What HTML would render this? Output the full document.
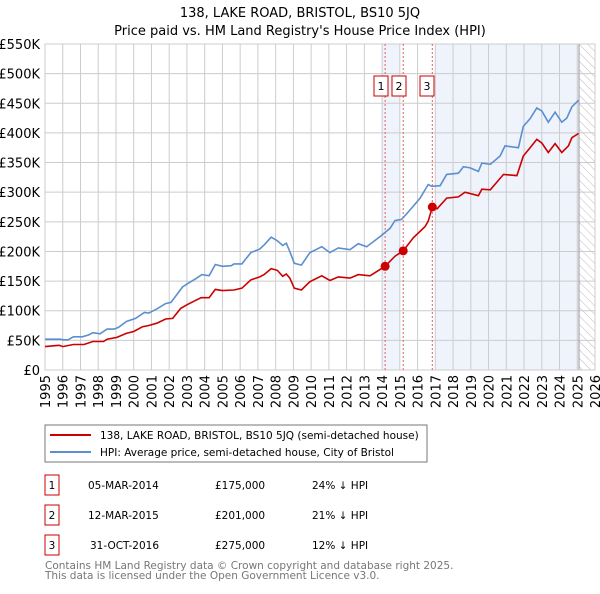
<!DOCTYPE html>
<html><head><meta charset="utf-8"><style>
body{margin:0;background:#fff;font-family:"DejaVu Sans","Liberation Sans",sans-serif;}
svg text{font-family:"DejaVu Sans","Liberation Sans",sans-serif;}
</style></head><body>
<svg id="c" width="600" height="590" xmlns="http://www.w3.org/2000/svg">
<defs><pattern id="hatch" width="6" height="6" patternUnits="userSpaceOnUse" patternTransform="rotate(-45)"><line x1="0" y1="0" x2="0" y2="6" stroke="#bbb" stroke-width="1"/></pattern></defs>
<text x="300" y="17" text-anchor="middle" font-size="13">138, LAKE ROAD, BRISTOL, BS10 5JQ</text>
<text x="300" y="35" text-anchor="middle" font-size="13">Price paid vs. HM Land Registry's House Price Index (HPI)</text>
<g id="plot"></g>
<rect x="45" y="425" width="382" height="37" fill="#fff" stroke="#777"/>
<line x1="50" y1="435" x2="91" y2="435" stroke="#cc0000" stroke-width="2"/>
<text x="100" y="439" font-size="10.5">138, LAKE ROAD, BRISTOL, BS10 5JQ (semi-detached house)</text>
<line x1="50" y1="452" x2="91" y2="452" stroke="#5b8fd0" stroke-width="2"/>
<text x="100" y="456" font-size="10.5">HPI: Average price, semi-detached house, City of Bristol</text>
<g id="table"></g>
<text x="45" y="569" font-size="10.5" fill="#777">Contains HM Land Registry data © Crown copyright and database right 2025.</text>
<text x="45" y="579" font-size="10.5" fill="#777">This data is licensed under the Open Government Licence v3.0.</text>
</svg>
<script>
const yTicks=[0,50,100,150,200,250,300,350,400,450,500,550];
const yLabels=["£0","£50K","£100K","£150K","£200K","£250K","£300K","£350K","£400K","£450K","£500K","£550K"];
const xYears=[1995,1996,1997,1998,1999,2000,2001,2002,2003,2004,2005,2006,2007,2008,2009,2010,2011,2012,2013,2014,2015,2016,2017,2018,2019,2020,2021,2022,2023,2024,2025,2026];
const hpiT=[1995,1995.85,1996.04,1996.3,1996.6,1997.1,1997.45,1997.7,1998.1,1998.5,1998.9,1999.15,1999.6,2000.1,2000.6,2000.85,2001.3,2001.8,2002.1,2002.35,2002.75,2003.0,2003.5,2003.85,2004.25,2004.6,2005.0,2005.5,2005.65,2006.1,2006.6,2007.1,2007.35,2007.75,2008.1,2008.4,2008.6,2008.8,2009.05,2009.45,2009.93,2010.6,2011.06,2011.53,2012.19,2012.66,2013.13,2013.88,2014.45,2014.73,2015.1,2015.57,2016.14,2016.6,2016.8,2017.27,2017.64,2018.3,2018.58,2018.96,2019.43,2019.62,2020.1,2020.65,2020.93,2021.4,2021.68,2021.96,2022.34,2022.72,2023.0,2023.37,2023.75,2024.13,2024.41,2024.7,2025.07];
const hpiV=[52,52,51,51,56,56,59,63,61,69,69,72,82,87,97,96,103,112,114,124,140,145,154,161,159,178,175,176,179,179,198,204,211,224,218,210,214,200,180,177,198,208,198,206,203,213,208,225,239,252,254,270,290,313,310,311,330,332,343,341,335,349,347,361,378,376,375,411,424,442,437,418,435,418,425,444,455];
const ppT=[1995,1995.8,1996,1996.6,1997.2,1997.7,1998.3,1998.5,1999.05,1999.6,2000,2000.5,2000.85,2001.3,2001.8,2002.2,2002.65,2003.0,2003.4,2003.8,2004.25,2004.6,2005.0,2005.65,2006.1,2006.6,2007.1,2007.35,2007.75,2008.1,2008.4,2008.6,2008.8,2009.05,2009.45,2009.93,2010.6,2011.06,2011.53,2012.19,2012.66,2013.32,2014.17,2014.73,2015.19,2015.76,2016.42,2016.6,2016.83,2017.1,2017.64,2018.3,2018.67,2019.43,2019.62,2020.1,2020.84,2021.6,2021.96,2022.34,2022.72,2023.0,2023.37,2023.75,2024.13,2024.5,2024.7,2025.07];
const ppV=[39.5,41.7,39.5,43,43,48,48,52,55,62,65,73,75,79,86,87,104,110,116,122,122,136,134,135,138,152,157,161,171,168,158,162,155,138,135,149,159,151,157,155,161,159,175,192,201,223,242,251,275,272,290,292,300,294,305,304,330,328,361,375,389,383,367,382,367,378,392,399];
const saleT=[2014.17,2015.19,2016.83];
const saleV=[175,201,275];
const saleLabels=["1","2","3"];
const saleDates=["05-MAR-2014","12-MAR-2015","31-OCT-2016"];
const salePrices=["£175,000","£201,000","£275,000"];
const saleHpi=["24% ↓ HPI","21% ↓ HPI","12% ↓ HPI"];
const dataEnd=2025.1;

const NS="http://www.w3.org/2000/svg";
const X0=45,X1=595,Y0=370,Y1=44;
const xs=t=>X0+(t-1995)/(2026-1995)*(X1-X0);
const ys=v=>Y0-v/550*(Y0-Y1);
const plot=document.getElementById('plot');
function mk(tag,attrs,parent){const e=document.createElementNS(NS,tag);for(const k in attrs)e.setAttribute(k,attrs[k]);(parent||plot).appendChild(e);return e;}
let e;
e=mk('rect',{x:xs(2014),y:Y1,width:xs(2015)-xs(2014),height:Y0-Y1,fill:'#eef3fc'});


e=mk('rect',{x:xs(2016.98),y:Y1,width:xs(dataEnd)-xs(2016.98),height:Y0-Y1,fill:'#eef3fc'});


e=mk('rect',{x:xs(dataEnd),y:Y1,width:X1-xs(dataEnd),height:Y0-Y1,fill:'url(#hatch)'});


yTicks.forEach((v,i)=>{
 e=mk('line',{x1:X0,x2:X1,y1:ys(v),y2:ys(v),stroke:'#ccc'});
 
 
 e=mk('text',{x:40,y:ys(v)+5,'text-anchor':'end','font-size':13});
 e.textContent=yLabels[i];
 
 
});
xYears.forEach(yr=>{
 e=mk('line',{x1:xs(yr),x2:xs(yr),y1:Y1,y2:Y0,stroke:'#ccc'});
 
 
 e=mk('text',{x:0,y:0,'font-size':13,'text-anchor':'end',transform:`translate(${xs(yr)+5},375) rotate(-90)`});
 e.textContent=yr;
 
 
});
e=mk('line',{x1:xs(dataEnd),x2:xs(dataEnd),y1:Y1,y2:Y0,stroke:'#999'});


e=mk('rect',{x:X0,y:Y1,width:X1-X0,height:Y0-Y1,fill:'none',stroke:'#ccc'});


saleT.forEach((t,i)=>{
 e=mk('line',{x1:xs(t),x2:xs(t),y1:Y1,y2:Y0,stroke:'#e06060','stroke-dasharray':'2,2'});
 
 
});
function path(T,V,col,name){
 const d=T.map((t,i)=>(i?'L':'M')+xs(t).toFixed(1)+','+ys(V[i]).toFixed(1)).join('');
 e=mk('path',{d:d,fill:'none',stroke:col,'stroke-width':1.6});
 
 
}
path(hpiT,hpiV,'#5b8fd0','hpi-line');
path(ppT,ppV,'#cc0000','price-paid-line');
const boxX=[374,392,420];
saleT.forEach((t,i)=>{
 e=mk('circle',{cx:xs(t),cy:ys(saleV[i]),r:4.5,fill:'#cc0000'});
 
 
 e=mk('rect',{x:boxX[i],y:76,width:14,height:20,fill:'#fff',stroke:'#cc0000'});
 
 
 e=mk('text',{x:boxX[i]+7,y:90,'text-anchor':'middle','font-size':11});
 e.textContent=saleLabels[i];
 
 
});
const tb=document.getElementById('table');
saleLabels.forEach((l,i)=>{
 const y=475+i*30;
 e=mk('rect',{x:45,y:y,width:14,height:20,fill:'#fff',stroke:'#cc0000'},tb);
 
 
 const cells=[[52,l,'middle'],[88+(i==2?2:0),saleDates[i],'start'],[215,salePrices[i],'start'],[312,saleHpi[i],'start']];
 cells.forEach((c,j)=>{
  e=mk('text',{x:c[0],y:y+14,'font-size':10.5,'text-anchor':c[2]},tb);
  e.textContent=c[1];
  
  
 });
});
</script>
</body></html>
